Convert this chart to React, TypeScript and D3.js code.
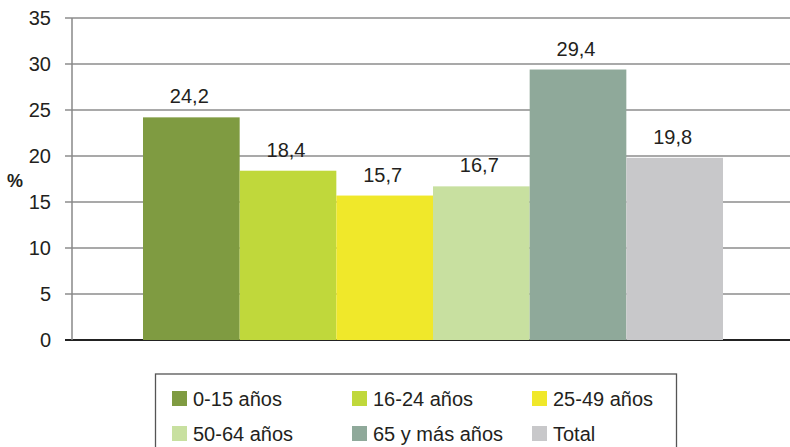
import React from "react";
import * as d3 from "d3";

const categories = ["0-15 años", "16-24 años", "25-49 años", "50-64 años", "65 y más años", "Total"];
const values = [24.2, 18.4, 15.7, 16.7, 29.4, 19.8];
const colors = ["#7f9b41", "#c0d83b", "#f0e82a", "#c8e0a0", "#8fa99a", "#c8c8ca"];
const yTicks = [0, 5, 10, 15, 20, 25, 30, 35];

const W = 790;
const H = 447;
const font = "'Liberation Sans', Arial, sans-serif";

export default function App() {
  const y = d3.scaleLinear().domain([0, 35]).range([340, 18]);
  const x = d3.scaleBand<string>().domain(categories).range([143, 723]).paddingInner(0).paddingOuter(0);
  const fmt = (v: number) => v.toFixed(1).replace(".", ",");

  const legendCols = [172, 352, 532];
  const legendRows = [391, 426];

  return (
    <svg width={W} height={H} style={{ position: "absolute", left: 0, top: 0 }}>
      <rect x={0} y={0} width={W} height={H} fill="#fff" />
      {yTicks.map((t) => (
        <g key={t}>
          <line x1={65} x2={790} y1={y(t)} y2={y(t)} stroke={t === 0 ? "#222" : "#555"} strokeWidth={t === 0 ? 2 : 1.2} />
          <text x={51} y={y(t)} dy="0.35em" textAnchor="end" fontFamily={font} fontSize={20} fill="#231f20">
            {t}
          </text>
        </g>
      ))}
      <line x1={72} x2={72} y1={y(35)} y2={y(0)} stroke="#888" strokeWidth={1.5} />
      <text x={15} y={181} dy="0.35em" textAnchor="middle" fontFamily={font} fontSize={18} fontWeight="bold" fill="#231f20">
        %
      </text>
      {categories.map((c, i) => (
        <g key={c}>
          <rect x={x(c)} y={y(values[i])} width={x.bandwidth()} height={y(0) - y(values[i])} fill={colors[i]} />
          <text x={(x(c) as number) + x.bandwidth() / 2 - 2} y={y(values[i]) - 14} textAnchor="middle" fontFamily={font} fontSize={20} fill="#231f20">
            {fmt(values[i])}
          </text>
        </g>
      ))}
      <rect x={155.5} y={374} width={521} height={90} fill="none" stroke="#555" strokeWidth={1.3} />
      {categories.map((c, i) => {
        const col = i % 3;
        const row = Math.floor(i / 3);
        const lx = legendCols[col];
        const ly = legendRows[row];
        return (
          <g key={"l" + c}>
            <rect x={lx} y={ly} width={15} height={15} fill={colors[i]} />
            <text x={lx + 21} y={ly + 7.5} dy="0.35em" fontFamily={font} fontSize={20} fill="#231f20">
              {c}
            </text>
          </g>
        );
      })}
    </svg>
  );
}
